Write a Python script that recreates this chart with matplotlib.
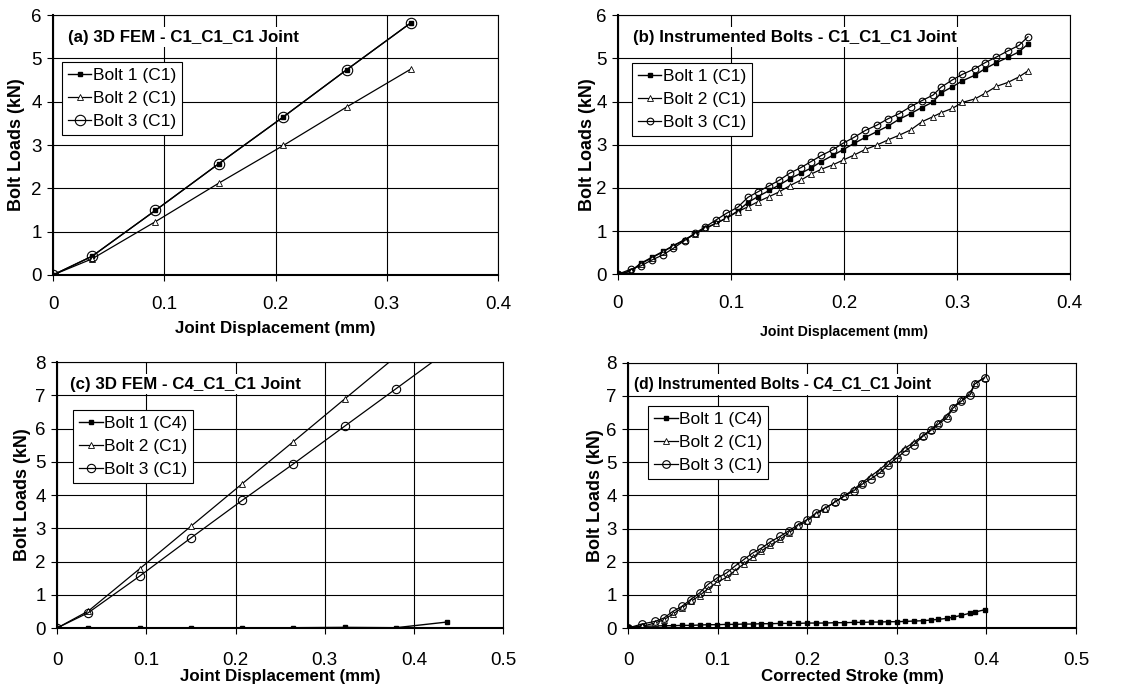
#Bolt load comparison - FEM vs instrumented bolts
#Four panels, one per joint configuration

import matplotlib
matplotlib.use("Agg")
import matplotlib.pyplot as plt

plt.rcParams['font.family'] = ['Liberation Sans', 'DejaVu Sans']

#---Data---
#(a) 3D FEM - C1_C1_C1
FemA_X = [0, 0.035, 0.092, 0.149, 0.207, 0.264, 0.322]
FemA_B1 = [0, 0.43, 1.49, 2.57, 3.65, 4.74, 5.83]
FemA_B2 = [0, 0.37, 1.23, 2.12, 2.99, 3.88, 4.76]
FemA_B3 = [0, 0.43, 1.49, 2.57, 3.65, 4.74, 5.83]

#(b) Instrumented bolts - C1_C1_C1
InsB_X = [0, 0.0118, 0.02, 0.03, 0.04, 0.049, 0.059, 0.068, 0.077, 0.087,
          0.096, 0.106, 0.115, 0.124, 0.134, 0.143, 0.152, 0.162, 0.171, 0.18,
          0.19, 0.199, 0.209, 0.219, 0.229, 0.239, 0.249, 0.259, 0.269, 0.279,
          0.286, 0.296, 0.305, 0.316, 0.325, 0.335, 0.345, 0.355, 0.363]
InsB_B1 = [0, 0.08, 0.25, 0.39, 0.53, 0.66, 0.80, 0.93, 1.06, 1.18,
           1.30, 1.46, 1.66, 1.80, 1.94, 2.07, 2.21, 2.34, 2.46, 2.61,
           2.75, 2.88, 3.03, 3.17, 3.30, 3.43, 3.59, 3.72, 3.86, 3.99,
           4.20, 4.34, 4.48, 4.61, 4.76, 4.90, 5.02, 5.15, 5.33]
InsB_B2 = [0, 0.07, 0.24, 0.38, 0.52, 0.66, 0.79, 0.93, 1.06, 1.18,
           1.30, 1.45, 1.56, 1.68, 1.80, 1.91, 2.05, 2.18, 2.32, 2.43,
           2.53, 2.64, 2.76, 2.89, 2.99, 3.11, 3.22, 3.34, 3.53, 3.65,
           3.74, 3.84, 3.98, 4.06, 4.19, 4.35, 4.44, 4.57, 4.71]
InsB_B3 = [0, 0.12, 0.19, 0.33, 0.45, 0.60, 0.78, 0.95, 1.09, 1.26,
           1.41, 1.55, 1.78, 1.91, 2.05, 2.18, 2.34, 2.47, 2.61, 2.75,
           2.88, 3.03, 3.17, 3.33, 3.45, 3.60, 3.72, 3.88, 4.02, 4.15,
           4.33, 4.50, 4.63, 4.76, 4.90, 5.03, 5.17, 5.30, 5.50]

#(c) 3D FEM - C4_C1_C1
FemC_X = [0, 0.035, 0.0925, 0.15, 0.2075, 0.265, 0.3228, 0.38, 0.437]
FemC_B1 = [0, 0.01, 0.01, 0.01, 0.01, 0.01, 0.02, 0.01, 0.18]
FemC_B2 = [0, 0.51, 1.78, 3.06, 4.34, 5.61, 6.90, 8.17, 9.45]
FemC_B3 = [0, 0.46, 1.56, 2.71, 3.84, 4.94, 6.08, 7.20, 8.32]

#(d) Instrumented bolts - C4_C1_C1
InsD_X = [0, 0.0156, 0.03, 0.04, 0.05, 0.06, 0.07, 0.08, 0.089, 0.0996,
          0.11, 0.119, 0.129, 0.139, 0.149, 0.159, 0.17, 0.18, 0.19, 0.2,
          0.21, 0.22, 0.231, 0.241, 0.252, 0.261, 0.271, 0.281, 0.29, 0.3,
          0.309, 0.319, 0.329, 0.338, 0.346, 0.356, 0.363, 0.372, 0.382, 0.387,
          0.398]
InsD_B1 = [0.02, 0.05, 0.06, 0.07, 0.07, 0.08, 0.08, 0.09, 0.10, 0.10,
           0.11, 0.11, 0.12, 0.12, 0.13, 0.13, 0.14, 0.14, 0.14, 0.15,
           0.15, 0.15, 0.16, 0.16, 0.17, 0.17, 0.18, 0.18, 0.19, 0.19,
           0.20, 0.21, 0.22, 0.24, 0.26, 0.29, 0.33, 0.38, 0.45, 0.48,
           0.55]
InsD_B2 = [0, 0.05, 0.15, 0.25, 0.42, 0.60, 0.80, 0.98, 1.18, 1.38,
           1.53, 1.72, 1.93, 2.13, 2.33, 2.50, 2.68, 2.88, 3.07, 3.23,
           3.43, 3.60, 3.80, 3.98, 4.18, 4.38, 4.58, 4.78, 4.99, 5.22,
           5.42, 5.60, 5.80, 5.98, 6.18, 6.40, 6.66, 6.88, 7.08, 7.38,
           7.55]
InsD_B3 = [0, 0.12, 0.20, 0.30, 0.50, 0.65, 0.86, 1.06, 1.31, 1.51,
           1.66, 1.86, 2.06, 2.26, 2.41, 2.60, 2.77, 2.94, 3.12, 3.27,
           3.47, 3.62, 3.80, 3.97, 4.14, 4.33, 4.50, 4.68, 4.91, 5.13,
           5.33, 5.53, 5.78, 5.96, 6.14, 6.34, 6.64, 6.84, 7.04, 7.36,
           7.55]

Titles = ["(a) 3D FEM - C1_C1_C1 Joint",
          "(b) Instrumented Bolts - C1_C1_C1 Joint",
          "(c) 3D FEM - C4_C1_C1 Joint",
          "(d) Instrumented Bolts - C4_C1_C1 Joint"]
XLabels = ["Joint Displacement (mm)", "Joint Displacement (mm)",
           "Joint Displacement (mm)", "Corrected Stroke (mm)"]
LegendC1 = ["Bolt 1 (C1)", "Bolt 2 (C1)", "Bolt 3 (C1)"]
LegendC4 = ["Bolt 1 (C4)", "Bolt 2 (C1)", "Bolt 3 (C1)"]

#---Layout---
Rects = [[0.0465, 0.601, 0.390, 0.377],
         [0.5416, 0.602, 0.396, 0.376],
         [0.050, 0.0885, 0.391, 0.386],
         [0.5504, 0.0885, 0.3926, 0.385]]
TitlePos = [(0.034, 0.915), (0.033, 0.915), (0.030, 0.917), (0.013, 0.917)]
TitleSize = [12.2, 12.2, 12.2, 11.2]
XLabelSize = [12.2, 10.2, 12.2, 12.2]
XTickPad = [11, 11, 13, 13]
XLabelPad = [6, 9, 0, 0]
YLabelPad = [5, 0, 3, 2]
LegendPos = [(0.02, 0.82), (0.031, 0.815), (0.036, 0.82), (0.045, 0.838)]

Fig = plt.figure(figsize=(11.41, 6.89), dpi=100)

Panels = [
    (FemA_X, [FemA_B1, FemA_B2, FemA_B3], LegendC1, 0.4, 6, 7.5),
    (InsB_X, [InsB_B1, InsB_B2, InsB_B3], LegendC1, 0.4, 6, 4.8),
    (FemC_X, [FemC_B1, FemC_B2, FemC_B3], LegendC4, 0.5, 8, 6.0),
    (InsD_X, [InsD_B1, InsD_B2, InsD_B3], LegendC4, 0.5, 8, 5.5),
]

for i, (X, Series, Labels, XMax, YMax, CircleSize) in enumerate(Panels):
    Ax = Fig.add_axes(Rects[i])
    Ax.plot(X, Series[0], color="black", lw=1.0, marker="s", ms=3.5,
            mfc="black", mec="black", label=Labels[0])
    Ax.plot(X, Series[1], color="black", lw=0.9, marker="^", ms=3.8,
            mfc="white", mec="black", mew=0.6, label=Labels[1])
    Ax.plot(X, Series[2], color="black", lw=0.9, marker="o", ms=CircleSize,
            mfc="none", mec="black", mew=0.8, label=Labels[2])
    Ax.set_xlim(0, XMax)
    Ax.set_ylim(0, YMax)
    NTicks = int(round(XMax * 10)) + 1
    Ax.set_xticks([round(0.1 * k, 1) for k in range(NTicks)])
    Ax.set_xticklabels([("0" if k == 0 else "%.1f" % (0.1 * k)) for k in range(NTicks)])
    Ax.set_yticks(range(YMax + 1))
    Ax.grid(True, color="black", lw=0.8)
    Ax.set_axisbelow(True)
    for Side, Spine in Ax.spines.items():
        Spine.set_color("black")
        Spine.set_linewidth(1.5 if Side in ("left", "bottom") else 0.8)
    Ax.tick_params(direction="out", length=4, width=0.8, labelsize=13.5)
    Ax.tick_params(axis="x", pad=XTickPad[i])
    Ax.tick_params(axis="y", pad=4)
    Ax.set_xlabel(XLabels[i], fontsize=XLabelSize[i], fontweight="bold",
                  labelpad=XLabelPad[i])
    Ax.set_ylabel("Bolt Loads (kN)", fontsize=13, fontweight="bold",
                  labelpad=YLabelPad[i])
    Ax.text(TitlePos[i][0], TitlePos[i][1], Titles[i], transform=Ax.transAxes,
            fontsize=TitleSize[i], fontweight="bold", va="center", ha="left",
            bbox=dict(facecolor="white", edgecolor="none", pad=2), zorder=5)
    Leg = Ax.legend(loc="upper left", bbox_to_anchor=LegendPos[i], fontsize=12.5,
                    frameon=True, fancybox=False, edgecolor="black", framealpha=1,
                    handlelength=1.35, handletextpad=0.08, labelspacing=0.45,
                    borderpad=0.35, borderaxespad=0)
    Leg.get_frame().set_linewidth(0.8)
    Leg.set_zorder(6)

plt.savefig("out.png", dpi=100)
